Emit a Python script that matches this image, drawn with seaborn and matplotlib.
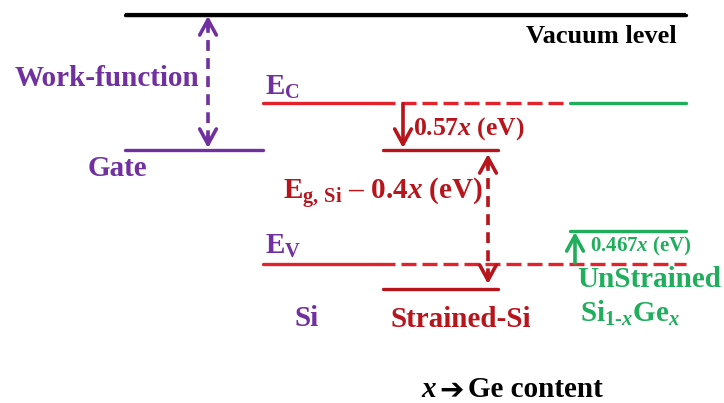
import pandas as pd
import matplotlib.pyplot as plt
import seaborn as sns

# Band levels (diagram units: x along the stack, y = depth below the vacuum level)
level_names = ['Vacuum', 'Gate', 'Si Ec', 'Si Ev', 'Strained Ec', 'Strained Ev', 'SiGe Ec', 'SiGe Ev']
level_x0 = [125, 125, 263, 263, 383, 383, 570, 570]
level_x1 = [686, 263, 380, 380, 498, 498, 686, 686]
level_y = [15, 150, 103, 264, 150, 289, 103, 231]
level_kind = ['vac', 'gate', 'si', 'si', 'strained', 'strained', 'sige', 'sige']

# Si band edges carried on as dashed reference lines
ref_x0 = [380, 380]
ref_x1 = [565, 686]
ref_y = [103, 264]

PURPLE = '#7030a0'
RED = '#e3222b'
DARKRED = '#b8141c'
GREEN = '#1fae5c'
palette = {'vac': 'black', 'gate': PURPLE, 'si': RED, 'strained': DARKRED, 'sige': GREEN}

sns.set_theme(style='white')
plt.rcParams['font.family'] = ['Liberation Serif', 'DejaVu Sans']
plt.rcParams['font.weight'] = 'bold'
plt.rcParams['mathtext.fontset'] = 'custom'
plt.rcParams['mathtext.rm'] = 'Liberation Serif:bold'
plt.rcParams['mathtext.it'] = 'Liberation Serif:bold:italic'
plt.rcParams['mathtext.bf'] = 'Liberation Serif:bold'

rows = []
for n, a, b, y, k in zip(level_names, level_x0, level_x1, level_y, level_kind):
    rows.append({'level': n, 'x': a, 'y': y, 'kind': k})
    rows.append({'level': n, 'x': b, 'y': y, 'kind': k})
df = pd.DataFrame(rows)

fig = plt.figure(figsize=(7.24, 4.03), dpi=100)
ax = fig.add_axes([0, 0, 1, 1])

sns.lineplot(data=df, x='x', y='y', hue='kind', units='level', estimator=None,
             palette=palette, lw=2.4, legend=False, ax=ax, sort=False)
ax.hlines(level_y[0], level_x0[0], level_x1[0], color='black', lw=3)
ax.hlines(ref_y, ref_x0, ref_x1, colors=RED, lw=2.4, linestyles=[(0, (4.5, 1.8))])


def head(x, y_tip, y_from, color):
    ax.annotate('', xy=(x, y_tip), xytext=(x, y_from),
                arrowprops=dict(arrowstyle='->,head_length=0.55,head_width=0.3',
                                lw=2.6, color=color, shrinkA=0, shrinkB=0,
                                mutation_scale=20))


def dashed_arrow(x, y_top, y_bot, color):
    ax.vlines(x, y_top + 6, y_bot - 6, colors=color, lw=2.6, linestyles=[(0, (3, 2))])
    head(x, y_top, y_top + 12, color)
    head(x, y_bot, y_bot - 12, color)


# work function and strained gap
dashed_arrow(208, 16, 148, PURPLE)
dashed_arrow(488, 154, 284, DARKRED)
# band offsets
head(403, 148, 104, DARKRED)
head(575, 232, 263, GREEN)

big = 21
ax.text(677, 43, 'Vacuum level', color='black', fontsize=19, ha='right', va='baseline')
ax.text(15, 86, 'Work-function', color=PURPLE, fontsize=big, ha='left', va='baseline')
ax.text(88, 176, 'Gate', color=PURPLE, fontsize=big, ha='left', va='baseline')
ax.text(265, 95, r'$\mathrm{E}_{\mathrm{C}}$', color=PURPLE, fontsize=big, ha='left', va='baseline')
ax.text(265, 254, r'$\mathrm{E}_{\mathrm{V}}$', color=PURPLE, fontsize=big, ha='left', va='baseline')
ax.text(413, 135, r'0.57$x$ (eV)', color=DARKRED, fontsize=18.5, ha='left', va='baseline')
ax.text(283, 200, r'$\mathrm{E}_{\mathrm{g,\,Si}}$ – 0.4$x$ (eV)', color=DARKRED, fontsize=big,
        ha='left', va='baseline')
ax.text(590, 251, r'0.467$x$ (eV)', color=GREEN, fontsize=15, ha='left', va='baseline')
ax.text(295, 326, 'Si', color=PURPLE, fontsize=big, ha='left', va='baseline')
ax.text(390, 327, 'Strained-Si', color=DARKRED, fontsize=big, ha='left', va='baseline')
ax.text(577, 287, 'UnStrained', color=GREEN, fontsize=big, ha='left', va='baseline')
ax.text(580, 322, r'Si$_{\mathrm{1\text{-}}x}$Ge$_{x}$', color=GREEN, fontsize=big,
        ha='left', va='baseline')
ax.text(421, 397, '$x$', color='black', fontsize=big, ha='left', va='baseline')
ax.text(452, 390, '\u2794', color='black', fontsize=21, ha='center', va='center',
        family=['DejaVu Sans'])
ax.text(468, 397, 'Ge content', color='black', fontsize=big, ha='left', va='baseline')

ax.set_xlim(0, 724)
ax.set_ylim(403, 0)
ax.axis('off')

fig.savefig('out.png', dpi=100, facecolor='white')
